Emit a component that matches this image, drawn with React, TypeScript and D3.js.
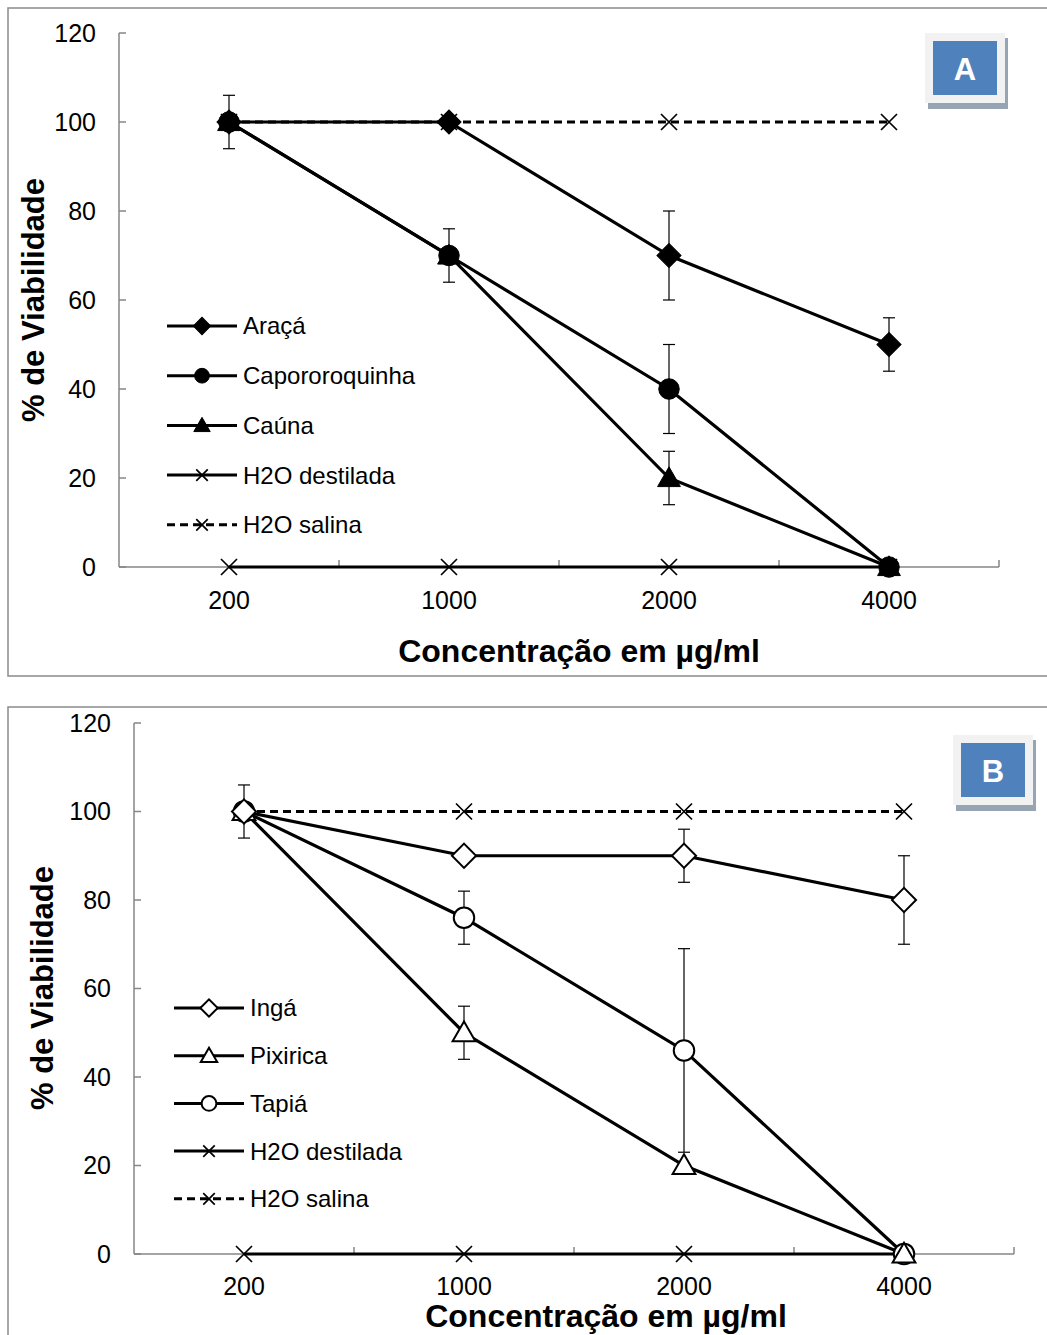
import React, { useEffect, useRef } from 'react'
import * as d3 from 'd3'

// concentration categories (µg/ml)
const concentrations = ['200', '1000', '2000', '4000']
const yTicks = [0, 20, 40, 60, 80, 100, 120]

// panel A
const aracaValues = [100, 100, 70, 50]
const aracaErr = [6, 0, 10, 6]
const caporoValues = [100, 70, 40, 0]
const caporoErr = [0, 6, 10, 0]
const caunaValues = [100, 70, 20, 0]
const caunaErr = [0, 0, 6, 0]

// panel B
const ingaValues = [100, 90, 90, 80]
const ingaErr = [6, 0, 6, 10]
const pixiricaValues = [100, 50, 20, 0]
const pixiricaErr = [0, 6, 0, 0]
const tapiaValues = [100, 76, 46, 0]
const tapiaErr = [0, 6, 23, 0]

// controls (both panels)
const destiladaValues = [0, 0, 0, 0]
const salinaValues = [100, 100, 100, 100]

const FONT = "'Liberation Sans', Arial, sans-serif"

type Series = {
  name: string
  values: number[]
  err: number[] | null
  marker: string
  fill: string
  dashed: boolean
}

const seriesA: Series[] = [
  { name: 'Araçá', values: aracaValues, err: aracaErr, marker: 'diamond', fill: '#000', dashed: false },
  { name: 'Capororoquinha', values: caporoValues, err: caporoErr, marker: 'circle', fill: '#000', dashed: false },
  { name: 'Caúna', values: caunaValues, err: caunaErr, marker: 'triangle', fill: '#000', dashed: false },
  { name: 'H2O destilada', values: destiladaValues, err: null, marker: 'cross', fill: 'none', dashed: false },
  { name: 'H2O salina', values: salinaValues, err: null, marker: 'cross', fill: 'none', dashed: true },
]

const seriesB: Series[] = [
  { name: 'Ingá', values: ingaValues, err: ingaErr, marker: 'diamond', fill: '#fff', dashed: false },
  { name: 'Pixirica', values: pixiricaValues, err: pixiricaErr, marker: 'triangle', fill: '#fff', dashed: false },
  { name: 'Tapiá', values: tapiaValues, err: tapiaErr, marker: 'circle', fill: '#fff', dashed: false },
  { name: 'H2O destilada', values: destiladaValues, err: null, marker: 'cross', fill: 'none', dashed: false },
  { name: 'H2O salina', values: salinaValues, err: null, marker: 'cross', fill: 'none', dashed: true },
]

function drawMarker(g: any, type: string, x: number, y: number, fill: string, s: number) {
  if (type === 'cross') {
    const r = 8 * s
    g.append('path')
      .attr('d', `M${x - r},${y - r}L${x + r},${y + r}M${x - r},${y + r}L${x + r},${y - r}`)
      .attr('stroke', '#000').attr('stroke-width', 1.7).attr('fill', 'none')
    return
  }
  let sym: any = d3.symbolCircle
  let size = 330 * s * s
  let rot = 0
  if (type === 'diamond') { sym = d3.symbolSquare; size = 290 * s * s; rot = 45 }
  if (type === 'triangle') { sym = d3.symbolTriangle; size = 225 * s * s }
  g.append('path')
    .attr('d', d3.symbol().type(sym).size(size)())
    .attr('transform', `translate(${x},${y + (type === 'triangle' ? 2 * s : 0)}) rotate(${rot})`)
    .attr('fill', fill)
    .attr('stroke', '#000')
    .attr('stroke-width', fill === '#fff' ? 2 : 1)
}

type Layout = {
  top: number
  frameBottom: number
  left: number
  yTop: number
  yBottom: number
  xLabelY: number
  titleX: number
  titleY: number
  yTitleX: number
  yTitleY: number
  legendX: number
  legendY: number
  legendStep: number
  badge: [number, number]
  letter: string
}

function drawPanel(svg: any, series: Series[], L: Layout) {
  // outer frame
  svg.append('rect')
    .attr('x', 8).attr('y', L.top).attr('width', 1060).attr('height', L.frameBottom - L.top)
    .attr('fill', '#fff').attr('stroke', '#8a8a8a').attr('stroke-width', 1.5)

  const x = d3.scaleBand().domain(concentrations).range([L.left, L.left + 880])
  const y = d3.scaleLinear().domain([0, 120]).range([L.yBottom, L.yTop])
  const cx = (c: string) => (x(c) as number) + x.bandwidth() / 2

  const g = svg.append('g')

  // y axis
  g.append('line').attr('x1', L.left).attr('x2', L.left).attr('y1', y(120)).attr('y2', y(0))
    .attr('stroke', '#868686').attr('stroke-width', 1.5)
  yTicks.forEach(t => {
    g.append('line').attr('x1', L.left).attr('x2', L.left + 7).attr('y1', y(t)).attr('y2', y(t))
      .attr('stroke', '#868686').attr('stroke-width', 1.5)
    g.append('text').attr('x', L.left - 23).attr('y', y(t)).attr('dy', '0.35em')
      .attr('text-anchor', 'end').attr('font-size', 25).attr('font-family', FONT).text(t)
  })

  // x axis
  g.append('line').attr('x1', L.left).attr('x2', L.left + 880).attr('y1', y(0)).attr('y2', y(0))
    .attr('stroke', '#868686').attr('stroke-width', 1.5)
  concentrations.forEach(c => {
    const tx = (x(c) as number) + x.bandwidth()
    g.append('line').attr('x1', tx).attr('x2', tx).attr('y1', y(0)).attr('y2', y(0) - 7)
      .attr('stroke', '#868686').attr('stroke-width', 1.5)
    g.append('text').attr('x', cx(c)).attr('y', L.xLabelY).attr('dy', '0.35em')
      .attr('text-anchor', 'middle').attr('font-size', 25).attr('font-family', FONT).text(c)
  })

  // titles
  g.append('text').attr('x', L.titleX).attr('y', L.titleY).attr('dy', '0.35em')
    .attr('text-anchor', 'middle').attr('font-size', 32).attr('font-weight', 'bold')
    .attr('font-family', FONT).text('Concentração em µg/ml')
  g.append('text').attr('transform', `translate(${L.yTitleX},${L.yTitleY}) rotate(-90)`)
    .attr('dy', '0.35em').attr('text-anchor', 'middle').attr('font-size', 31)
    .attr('font-weight', 'bold').attr('font-family', FONT).text('% de Viabilidade')

  // lines
  const line = d3.line<number>().x((d, i) => cx(concentrations[i])).y(d => y(d))
  series.forEach(s => {
    g.append('path').attr('d', line(s.values)).attr('fill', 'none').attr('stroke', '#000')
      .attr('stroke-width', 3.2).attr('stroke-dasharray', s.dashed ? '8,5' : null)
  })

  // error bars
  series.forEach(s => {
    if (!s.err) return
    s.values.forEach((v, i) => {
      const e = s.err![i]
      if (!e) return
      const px = cx(concentrations[i])
      g.append('line').attr('x1', px).attr('x2', px).attr('y1', y(v + e)).attr('y2', y(v - e))
        .attr('stroke', '#000').attr('stroke-width', 1.2)
      ;[v + e, v - e].forEach(w => {
        g.append('line').attr('x1', px - 6).attr('x2', px + 6).attr('y1', y(w)).attr('y2', y(w))
          .attr('stroke', '#000').attr('stroke-width', 1.2)
      })
    })
  })

  // markers
  series.slice().reverse().forEach(s => {
    s.values.forEach((v, i) => drawMarker(g, s.marker, cx(concentrations[i]), y(v), s.fill, 1))
  })

  // legend
  series.forEach((s, i) => {
    const ly = L.legendY + i * L.legendStep
    g.append('line').attr('x1', L.legendX).attr('x2', L.legendX + 70).attr('y1', ly).attr('y2', ly)
      .attr('stroke', '#000').attr('stroke-width', 3).attr('stroke-dasharray', s.dashed ? '8,5' : null)
    drawMarker(g, s.marker, L.legendX + 35, ly, s.fill, 0.72)
    g.append('text').attr('x', L.legendX + 76).attr('y', ly).attr('dy', '0.35em')
      .attr('font-size', 24).attr('font-family', FONT).text(s.name)
  })

  // badge
  const [bx, by] = L.badge
  g.append('rect').attr('x', bx + 3).attr('y', by + 5).attr('width', 80).attr('height', 71).attr('fill', '#97a4b4')
  g.append('rect').attr('x', bx).attr('y', by).attr('width', 80).attr('height', 70).attr('fill', '#f2f2f2')
  g.append('rect').attr('x', bx + 8).attr('y', by + 8).attr('width', 64).attr('height', 54).attr('fill', '#4f81bd')
  g.append('text').attr('x', bx + 40).attr('y', by + 36).attr('dy', '0.35em').attr('text-anchor', 'middle')
    .attr('font-size', 31).attr('font-weight', 'bold').attr('fill', '#fff').attr('font-family', FONT)
    .text(L.letter)
}

const App = () => {
  const ref = useRef<SVGSVGElement>(null)

  useEffect(() => {
    const svg = d3.select(ref.current)
    svg.selectAll('*').remove()
    svg.append('rect').attr('width', 1047).attr('height', 1335).attr('fill', '#fff')

    drawPanel(svg, seriesA, {
      top: 8, frameBottom: 676, left: 119, yTop: 33, yBottom: 567,
      xLabelY: 600, titleX: 579, titleY: 651, yTitleX: 33, yTitleY: 300,
      legendX: 167, legendY: 326, legendStep: 49.7, badge: [925, 33], letter: 'A',
    })
    drawPanel(svg, seriesB, {
      top: 707, frameBottom: 1360, left: 134, yTop: 723, yBottom: 1254,
      xLabelY: 1286, titleX: 606, titleY: 1316, yTitleX: 42, yTitleY: 988,
      legendX: 174, legendY: 1008, legendStep: 47.7, badge: [953, 735], letter: 'B',
    })
  }, [])

  return (
    <svg ref={ref} width={1047} height={1335}
      style={{ position: 'absolute', left: 0, top: 0, display: 'block' }} />
  )
}

export default App
